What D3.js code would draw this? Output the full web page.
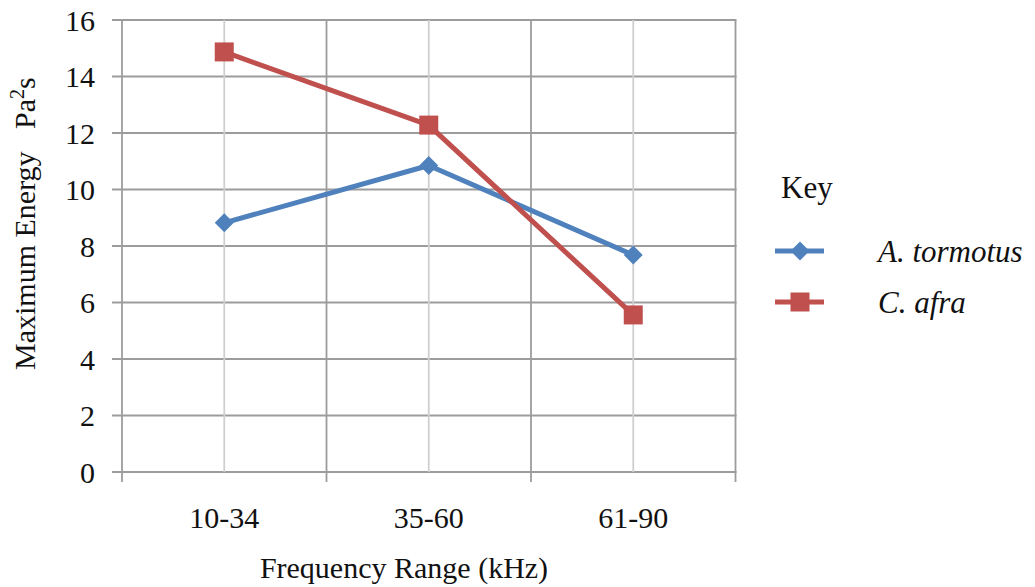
<!DOCTYPE html>
<html><head><meta charset="utf-8">
<script src="https://cdn.jsdelivr.net/npm/d3@7"></script>
<style>body{margin:0;background:#fff}svg{display:block}</style>
</head><body>
<svg id="c" width="1035" height="587" font-family="'Liberation Serif', 'Times New Roman', Times, serif"></svg>
<script>
const categories = ["10-34", "35-60", "61-90"];
const tormotus = [8.82, 10.85, 7.68];
const afra = [14.87, 12.28, 5.56];
const yTicks = [0, 2, 4, 6, 8, 10, 12, 14, 16];
const seriesNames = ["A. tormotus", "C. afra"];
const colors = ["#4F81BD", "#C0504D"];

const svg = d3.select("#c");
const L = 122, R = 735.5, T = 20, B = 472;
const x = d3.scaleBand().domain(categories).range([L, R]).padding(0);
const y = d3.scaleLinear().domain([0, 16]).range([B, T]);
const fs = 30;

// horizontal gridlines + left ticks
svg.append("g").selectAll("line").data(yTicks).join("line")
  .attr("x1", L - 10).attr("x2", R + 1).attr("y1", d => y(d)).attr("y2", d => y(d))
  .attr("stroke", "#9c9c9c").attr("stroke-width", 1.8);
// category center verticals (light)
svg.append("g").selectAll("line").data(categories).join("line")
  .attr("x1", d => x(d) + x.bandwidth() / 2).attr("x2", d => x(d) + x.bandwidth() / 2)
  .attr("y1", T).attr("y2", B).attr("stroke", "#cfcfcf").attr("stroke-width", 1.8);
// boundary verticals
const bounds = categories.map(d => x(d)).concat([x(categories[categories.length - 1]) + x.bandwidth()]);
svg.append("g").selectAll("line").data(bounds).join("line")
  .attr("x1", d => d).attr("x2", d => d).attr("y1", T).attr("y2", B + 10)
  .attr("stroke", "#9c9c9c").attr("stroke-width", 1.8);

// y tick labels
svg.append("g").selectAll("text").data(yTicks).join("text")
  .attr("x", 95).attr("y", d => y(d)).attr("dy", "0.35em").attr("text-anchor", "end")
  .attr("font-size", fs).attr("fill", "#111").text(d => d);
// x tick labels
svg.append("g").selectAll("text").data(categories).join("text")
  .attr("x", d => x(d) + x.bandwidth() / 2).attr("y", 528).attr("text-anchor", "middle")
  .attr("font-size", fs).attr("fill", "#111").text(d => d);

// axis titles
svg.append("text").attr("x", 404).attr("y", 578).attr("text-anchor", "middle")
  .attr("font-size", fs).attr("fill", "#111").text("Frequency Range (kHz)");
const yt = svg.append("text").attr("transform", "translate(35,370) rotate(-90)")
  .attr("font-size", fs).attr("fill", "#111");
yt.append("tspan").text("Maximum Energy\u00a0\u00a0\u00a0Pa");
yt.append("tspan").attr("dy", -11).attr("font-size", 20).text("2");
yt.append("tspan").attr("dy", 11).text("s");

// lines
const cx = (d, i) => x(categories[i]) + x.bandwidth() / 2;
const line = d3.line().x(cx).y(d => y(d));
[tormotus, afra].forEach((s, k) => {
  svg.append("path").datum(s).attr("d", line).attr("fill", "none")
    .attr("stroke", colors[k]).attr("stroke-width", 5).attr("stroke-linejoin", "round");
});
// markers
const diamond = (g, cxv, cyv, r) => g.append("path")
  .attr("d", `M${cxv},${cyv - r}L${cxv + r},${cyv}L${cxv},${cyv + r}L${cxv - r},${cyv}Z`)
  .attr("fill", colors[0]);
const square = (g, cxv, cyv, s) => g.append("rect")
  .attr("x", cxv - s / 2).attr("y", cyv - s / 2).attr("width", s).attr("height", s)
  .attr("fill", colors[1]);
const mk = svg.append("g");
tormotus.forEach((d, i) => diamond(mk, cx(d, i), y(d), 9.5));
afra.forEach((d, i) => square(mk, cx(d, i), y(d), 19));

// legend
svg.append("text").attr("x", 781).attr("y", 198).attr("font-size", 31).attr("fill", "#111").text("Key");
const legY = [251, 302];
seriesNames.forEach((n, k) => {
  svg.append("line").attr("x1", 775).attr("x2", 824).attr("y1", legY[k]).attr("y2", legY[k])
    .attr("stroke", colors[k]).attr("stroke-width", 5);
  if (k === 0) diamond(svg, 800, legY[k], 9.5); else square(svg, 800, legY[k], 19);
  svg.append("text").attr("x", 878).attr("y", legY[k]).attr("dy", "0.35em")
    .attr("font-size", 31).attr("font-style", "italic").attr("fill", "#111").text(n);
});
</script>
</body></html>
